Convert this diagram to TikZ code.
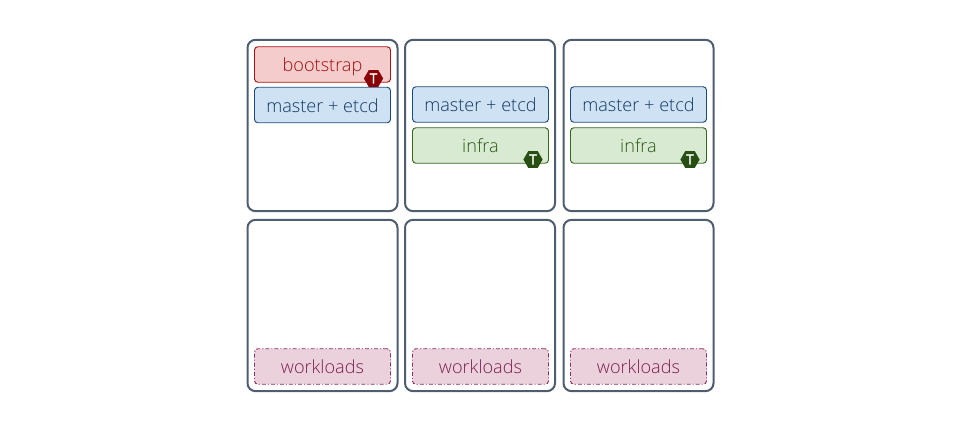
\documentclass[tikz,border=0pt]{standalone}
\usepackage{fontspec}
\setmainfont{Open Sans Light}
\newfontfamily\boldlabel{Open Sans}[FakeBold=2]
\usetikzlibrary{shapes.geometric}
\definecolor{cellline}{HTML}{4F5D70}
\definecolor{redfill}{HTML}{F4CCCC}
\definecolor{redline}{HTML}{A81414}
\definecolor{redtext}{HTML}{A30F0F}
\definecolor{redbadge}{HTML}{8B0000}
\definecolor{bluefill}{HTML}{CFE2F3}
\definecolor{blueline}{HTML}{1C4A7A}
\definecolor{bluetext}{HTML}{113A66}
\definecolor{greenfill}{HTML}{D9EAD3}
\definecolor{greenline}{HTML}{38671E}
\definecolor{greentext}{HTML}{2A5A12}
\definecolor{greenbadge}{HTML}{274E13}
\definecolor{pinkfill}{HTML}{EAD1DC}
\definecolor{pinkline}{HTML}{8E2A5C}
\definecolor{pinktext}{HTML}{7F1F50}
\tikzset{
  cell/.style={draw=cellline,line width=1.5pt,rounded corners=6pt,fill=white,minimum width=112.5pt,minimum height=128.5pt,inner sep=0pt,outer sep=0pt},
  role/.style={rounded corners=2.5pt,line width=0.7pt,minimum width=102pt,minimum height=26.6pt,inner sep=0pt,outer sep=0pt,text height=11pt,text depth=0pt,font=\fontsize{13.6pt}{16pt}\selectfont},
  bootrole/.style={role,draw=redline,fill=redfill,text=redtext},
  masterrole/.style={role,draw=blueline,fill=bluefill,text=bluetext},
  infrarole/.style={role,draw=greenline,fill=greenfill,text=greentext},
  workrole/.style={role,draw=pinkline,fill=pinkfill,text=pinktext,dash pattern=on 3pt off 1.5pt on 0.8pt off 1.5pt},
  badge/.style={regular polygon,regular polygon sides=6,minimum size=14.4pt,inner sep=0pt,outer sep=0pt,text=white,font=\boldlabel\fontsize{10.5pt}{10.5pt}\selectfont},
}
\begin{document}
\begin{tikzpicture}[x=0.75pt,y=-0.75pt]
\useasboundingbox (0,0) rectangle (961,431);
\node[cell] (c1) at (322.5,125.5) {};
\node[cell] (c2) at (480,125.5) {};
\node[cell] (c3) at (638.5,125.5) {};
\node[cell] (c4) at (322.5,305.5) {};
\node[cell] (c5) at (480,305.5) {};
\node[cell] (c6) at (638.5,305.5) {};
\node[bootrole] (boot) at (322.5,64.5) {bootstrap};
\node[masterrole] (m1) at (322.5,105) {master + etcd};
\node[masterrole] (m2) at (480.5,104.5) {master + etcd};
\node[masterrole] (m3) at (638.5,104.5) {master + etcd};
\node[infrarole] (i2) at (480.5,145.5) {infra};
\node[infrarole] (i3) at (638.5,145.5) {infra};
\node[workrole] (w1) at (322.5,366.5) {workloads};
\node[workrole] (w2) at (480.5,366.5) {workloads};
\node[workrole] (w3) at (638.5,366.5) {workloads};
\node[badge,fill=redbadge] (t1) at (373.5,78.5) {T};
\node[badge,fill=greenbadge] (t2) at (533,159.5) {T};
\node[badge,fill=greenbadge] (t3) at (690,159.5) {T};
\end{tikzpicture}
\end{document}
